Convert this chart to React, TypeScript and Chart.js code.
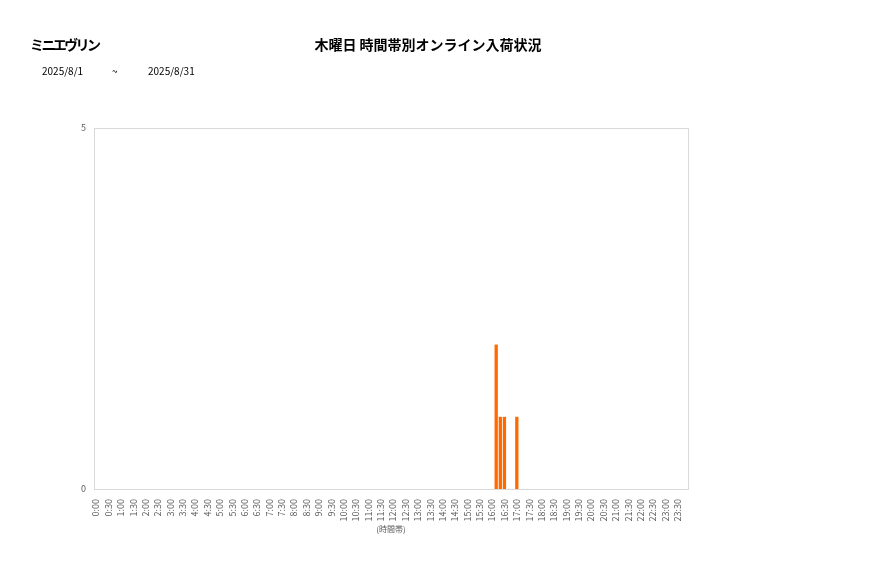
import React, { useEffect, useRef } from 'react';
import { Chart, registerables } from 'chart.js';

Chart.register(...registerables);

// 10-minute slots through the day; only every third one (each half hour) gets a label
const slotLabels: string[] = [];
for (let h = 0; h < 24; h++) {
  for (let m = 0; m < 60; m += 10) {
    slotLabels.push(`${h}:${m === 0 ? '00' : m}`);
  }
}

// slots that had arrivals, and how many
const arrivalSlots = ['16:10', '16:20', '16:30', '17:00'];
const arrivalCounts = [2, 1, 1, 1];

const yTicks = [0, 5];

const storeName = 'ミニエヴリン';
const chartTitle = '木曜日 時間帯別オンライン入荷状況';
const periodFrom = '2025/8/1';
const periodTo = '2025/8/31';
const axisTitle = '(時間帯)';

const JP_FONT = '"Noto Sans CJK JP", "Noto Sans", sans-serif';

const plotFrame = {
  id: 'plotFrame',
  afterDraw(chart: Chart) {
    const { ctx, chartArea } = chart;
    ctx.save();
    ctx.strokeStyle = '#d9d9d9';
    ctx.lineWidth = 1;
    ctx.strokeRect(
      Math.round(chartArea.left) + 0.5,
      Math.round(chartArea.top) + 0.5,
      Math.round(chartArea.right - chartArea.left),
      Math.round(chartArea.bottom - chartArea.top)
    );
    ctx.restore();
  },
};

const ArrivalChart: React.FC = () => {
  const chartRef = useRef<HTMLCanvasElement>(null);
  const chartInstance = useRef<Chart | null>(null);

  useEffect(() => {
    if (!chartRef.current) return;
    if (chartInstance.current) chartInstance.current.destroy();

    const ctx = chartRef.current.getContext('2d');
    if (!ctx) return;

    const counts = slotLabels.map((s) => {
      const i = arrivalSlots.indexOf(s);
      return i >= 0 ? arrivalCounts[i] : 0;
    });

    chartInstance.current = new Chart(ctx, {
      type: 'bar',
      data: {
        labels: slotLabels,
        datasets: [
          {
            data: counts,
            backgroundColor: '#ff6a00',
            borderWidth: 0,
            barPercentage: 0.8,
            categoryPercentage: 1,
          },
        ],
      },
      plugins: [plotFrame],
      options: {
        animation: false,
        responsive: false,
        maintainAspectRatio: false,
        layout: { padding: { top: 128, right: 189, bottom: 44, left: 0 } },
        plugins: {
          legend: { display: false },
          tooltip: { enabled: false },
          title: { display: false },
        },
        scales: {
          x: {
            grid: { display: false },
            border: { display: false },
            ticks: {
              autoSkip: false,
              maxRotation: 90,
              minRotation: 90,
              padding: 2,
              color: '#595959',
              font: { family: JP_FONT, size: 9 },
              callback: (_v, i) => (i % 3 === 0 ? slotLabels[i] : ''),
            },
            title: {
              display: true,
              text: axisTitle,
              color: '#595959',
              font: { family: JP_FONT, size: 8 },
              padding: { top: 4, bottom: 0 },
            },
            afterFit: (scale) => {
              scale.height = 45;
            },
          },
          y: {
            min: 0,
            max: 5,
            grid: { display: false },
            border: { display: false },
            afterBuildTicks: (scale) => {
              scale.ticks = yTicks.map((v) => ({ value: v }));
            },
            ticks: {
              padding: 0,
              color: '#595959',
              font: { family: JP_FONT, size: 9 },
            },
            afterFit: (scale) => {
              scale.width = 94;
            },
          },
        },
      },
    });

    return () => {
      if (chartInstance.current) {
        chartInstance.current.destroy();
        chartInstance.current = null;
      }
    };
  }, []);

  return <canvas ref={chartRef} width={877} height={578} style={{ position: 'absolute', left: 0, top: 0 }}></canvas>;
};

export default function App() {
  const text: React.CSSProperties = { position: 'absolute', fontFamily: JP_FONT, color: '#000', whiteSpace: 'nowrap' };
  return (
    <div style={{ position: 'absolute', left: 0, top: 0, width: 877, height: 578, background: '#fff', overflow: 'hidden' }}>
      <ArrivalChart />
      <div style={{ ...text, left: 30, top: 34, fontSize: 14, fontWeight: 'bold', letterSpacing: -2.6 }}>{storeName}</div>
      <div style={{ ...text, left: 0, width: 856, top: 34, fontSize: 14, fontWeight: 'bold', textAlign: 'center' }}>{chartTitle}</div>
      <div style={{ ...text, left: 42, top: 63, fontSize: 10 }}>{periodFrom}</div>
      <div style={{ ...text, left: 112, top: 63, fontSize: 10 }}>~</div>
      <div style={{ ...text, left: 148, top: 63, fontSize: 10 }}>{periodTo}</div>
    </div>
  );
}
